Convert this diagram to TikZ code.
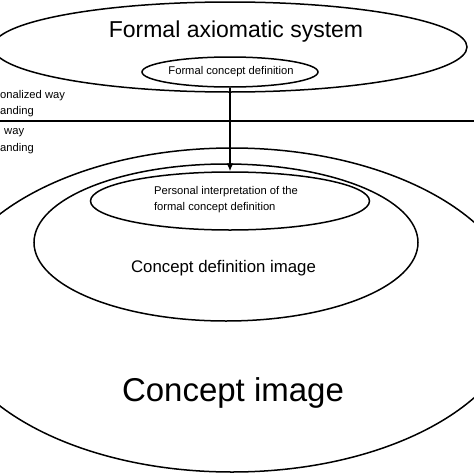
\documentclass[tikz,border=0pt]{standalone}
\usepackage{fontspec}
\setmainfont{Liberation Sans}
\usetikzlibrary{arrows.meta,shapes.geometric}

\begin{document}
\begin{tikzpicture}[>=Latex,x=1pt,y=-1pt,
oval/.style={ellipse,draw,line width=1.5pt,inner sep=0pt},
small/.style={inner sep=0pt,font=\fontsize{11.2}{16}\selectfont},
big/.style={inner sep=0pt,font=\fontsize{#1}{#1}\selectfont}]

\useasboundingbox (0,0) rectangle (474,474);
\clip (0,0) rectangle (474,474);

% ellipses
\node[oval,minimum width=474pt,minimum height=90pt] (fas) at (230,47) {};
\node[oval,minimum width=176pt,minimum height=30pt] (fcd) at (230,72) {};
\node[oval,minimum width=576pt,minimum height=324pt] (ci) at (232,310) {};
\node[oval,minimum width=384pt,minimum height=157pt] (cdi) at (226,242.5) {};
\node[oval,minimum width=279pt,minimum height=58pt] (pers) at (230,201) {};

% labels
\node[big=23] (fastext) at (236,32) {Formal axiomatic system};
\node[small] (fcdtext) at (231,72) {Formal concept definition};
\node[small,align=left] (perstext) at (226,200) {Personal interpretation of the\\formal concept definition};
\node[big=16.8] (cditext) at (223.5,268) {Concept definition image};
\node[big=33] (citext) at (233,393) {Concept image};

% divider and side texts
\coordinate (divl) at (0,121);
\coordinate (divr) at (474,121);
\draw[line width=1.5pt] (divl)--(divr);
\node[small,anchor=west] (up1) at (0,96) {onalized way};
\node[small,anchor=west] (up2) at (0,112) {anding};
\node[small,anchor=west] (lo1) at (4,133) {way};
\node[small,anchor=west] (lo2) at (0,149) {anding};

\draw[->,line width=1.5pt,-{Latex[length=8pt,width=7pt]}] (fcd.south)--(pers.north);
\end{tikzpicture}
\end{document}
